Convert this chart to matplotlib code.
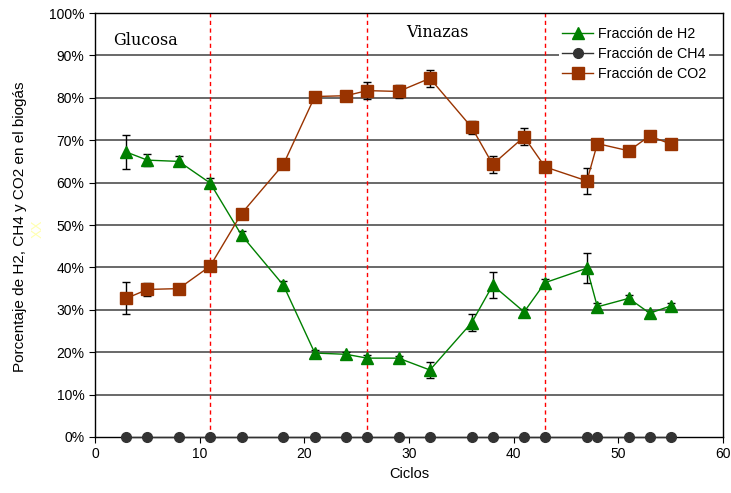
import numpy as np
import matplotlib
matplotlib.use("Agg")
import matplotlib.pyplot as plt
from matplotlib.ticker import PercentFormatter

plt.rcParams['font.family'] = ['Liberation Sans', 'DejaVu Sans']

# Ciclos muestreados
ciclos = [3, 5, 8, 11, 14, 18, 21, 24, 26, 29, 32, 36, 38, 41, 43, 47, 48, 51, 53, 55]

# Fracciones (%) y desviaciones
h2 = [67.2, 65.3, 65.0, 59.9, 47.6, 35.8, 19.8, 19.5, 18.6, 18.6,
      15.8, 27.0, 35.8, 29.5, 36.4, 39.8, 30.7, 32.7, 29.2, 30.9]
h2_err = [4.0, 1.5, 1.2, 1.2, 1.0, 1.0, 0.8, 0.6, 0.8, 0.6,
          2.0, 2.0, 3.0, 0.8, 0.8, 3.5, 1.0, 0.8, 0.6, 0.8]
ch4 = [0.0] * len(ciclos)
co2 = [32.7, 34.8, 35.0, 40.3, 52.7, 64.3, 80.3, 80.5, 81.7, 81.5,
       84.6, 73.0, 64.3, 70.8, 63.7, 60.4, 69.2, 67.5, 71.0, 69.1]
co2_err = [3.8, 1.5, 1.2, 1.2, 0.5, 0.5, 0.5, 0.5, 2.0, 1.5,
           2.0, 1.5, 2.0, 2.0, 0.5, 3.1, 0.5, 0.5, 0.5, 0.5]

# Cambios de sustrato
cambios = [11, 26, 43]

fig = plt.figure(figsize=(7.31, 4.93), dpi=100)
ax = fig.add_axes([0.130, 0.1136, 0.859, 0.860])

for y in range(10, 100, 10):
    ax.axhline(y, color='#404040', lw=1.1, zorder=1)
for c in cambios:
    ax.axvline(c, color='red', lw=1, ls=(0, (3, 2.5)), zorder=2)

ax.errorbar(ciclos, h2, yerr=h2_err, fmt='none', ecolor='black', elinewidth=1,
            capsize=3, capthick=1, zorder=3)
ax.errorbar(ciclos, co2, yerr=co2_err, fmt='none', ecolor='black', elinewidth=1,
            capsize=3, capthick=1, zorder=3)

ax.plot(ciclos, h2, color='#008000', lw=1, marker='^', ms=8, label='Fracción de H2', zorder=4)
ax.plot(ciclos, ch4, color='#333333', lw=1, marker='o', ms=7, label='Fracción de CH4',
        zorder=4, clip_on=False)
ax.plot(ciclos, co2, color='#993300', lw=1, marker='s', ms=8, label='Fracción de CO2', zorder=4)

ax.text(4.8, 93.5, 'Glucosa', family='DejaVu Serif', fontsize=11.5, ha='center', va='center')
ax.text(32.7, 95.5, 'Vinazas', family='DejaVu Serif', fontsize=11.5, ha='center', va='center')

ax.set_xlim(0, 60)
ax.set_ylim(0, 100)
ax.set_xticks(range(0, 61, 10))
ax.set_yticks(range(0, 101, 10))
ax.yaxis.set_major_formatter(PercentFormatter(decimals=0))
ax.tick_params(direction='out', length=4, labelsize=10, colors='black')
for s in ax.spines.values():
    s.set_color('black')
    s.set_linewidth(1)

ax.set_xlabel('Ciclos', fontsize=10.5, labelpad=4)
ax.set_ylabel('Porcentaje de H2, CH4 y CO2 en el biogás', fontsize=11)
ax.yaxis.set_label_coords(-0.108, 0.495)
fig.text(0.051, 0.535, 'XX', color='#ffffb0', fontsize=10, rotation=90, ha='center', va='center')

leg = ax.legend(loc='upper right', bbox_to_anchor=(0.989, 0.99), frameon=True, fontsize=10.3,
                handlelength=2.2, handletextpad=0.3, labelspacing=0.42, borderpad=0.2)
leg.get_frame().set_facecolor('white')
leg.get_frame().set_edgecolor('none')
leg.get_frame().set_alpha(1)

fig.savefig('out.png', dpi=100)
